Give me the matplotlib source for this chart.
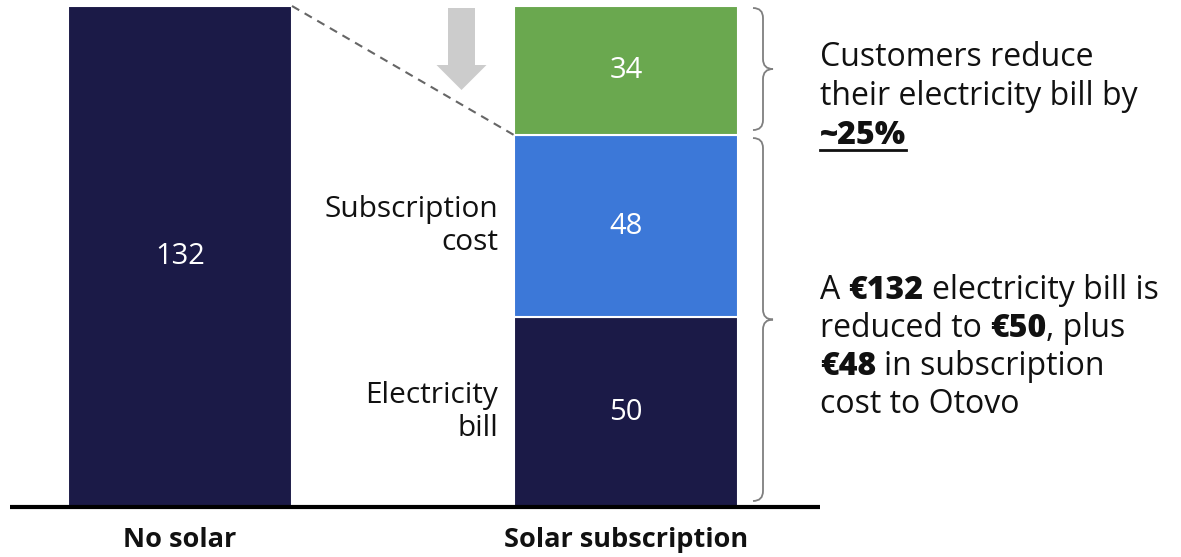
import matplotlib
matplotlib.use("Agg")
import matplotlib.pyplot as plt
from matplotlib.path import Path
from matplotlib.patches import PathPatch, FancyArrow
import numpy as np

plt.rcParams['font.family'] = ['Open Sans', 'DejaVu Sans']

# ---- data ----
categories = ["No solar", "Solar subscription"]
no_solar_total = 132
segment_names = ["Electricity bill", "Subscription cost", "Savings"]
segment_values = [50, 48, 34]
segment_labels = ["Electricity\nbill", "Subscription\ncost", None]

NAVY = "#1b1a47"
BLUE = "#3c78d8"
GREEN = "#6aa84f"
segment_colors = [NAVY, BLUE, GREEN]

W, H = 1181, 557
fig = plt.figure(figsize=(W / 100, H / 100), dpi=100)

# main axes covering the whole figure
ax = fig.add_axes([0, 0, 1, 1])
px_per_unit = 446.0
c0 = 180.0
ax.set_xlim(-c0 / px_per_unit, (W - c0) / px_per_unit)
k = (507 - 6) / 132.0
ax.set_ylim(-(H - 507) / k, 132 + 6 / k)
ax.axis("off")

bw = 224 / px_per_unit
x = np.arange(len(categories))

ax.bar(x[0], no_solar_total, width=bw, color=NAVY, edgecolor="white", linewidth=1.5)
ax.text(x[0], no_solar_total / 2, str(no_solar_total), color="white", ha="center",
        va="center", fontsize=21)

bottom = 0
for v, c, lab in zip(segment_values, segment_colors, segment_labels):
    ax.bar(x[1], v, width=bw, bottom=bottom, color=c, edgecolor="white", linewidth=1.5)
    ax.text(x[1], bottom + v / 2, str(v), color="white", ha="center", va="center",
            fontsize=21)
    if lab:
        ax.text(x[1] - bw / 2 - 16 / px_per_unit, bottom + v / 2, lab, ha="right",
                va="center", fontsize=21.5, color="#111111", linespacing=1.2)
    bottom += v

# category labels
for xi, cat in zip(x, categories):
    ax.text(xi, -33 / k, cat, ha="center", va="center", fontsize=19.5,
            fontweight="bold", color="#111111")

# baseline
ax.plot([(10 - c0) / px_per_unit, (820 - c0) / px_per_unit], [0, 0], color="black",
        lw=3, solid_capstyle="butt", zorder=5)

# dashed connector
ax.plot([x[0] + bw / 2, x[1] - bw / 2], [no_solar_total, segment_values[0] + segment_values[1]],
        color="#666666", lw=1.5, ls=(0, (4, 3)))

# overlay axes in pixel coordinates
ov = fig.add_axes([0, 0, 1, 1])
ov.set_xlim(0, W)
ov.set_ylim(H, 0)
ov.axis("off")
ov.patch.set_alpha(0)

def ypix(v):
    return H - ax.transData.transform((0, v))[1]

# grey arrow
ov.add_patch(FancyArrow(461.5, 8, 0, 82, width=27, head_width=50, head_length=25,
                        length_includes_head=True, color="#cccccc", lw=0))

def brace(x0, y0, y1, depth=20):
    ym = (y0 + y1) / 2
    xs = x0 + depth / 2
    r = 10
    verts = [(x0, y0), (xs, y0), (xs, y0 + r),
             (xs, ym - r), (xs, ym), (x0 + depth, ym),
             (xs, ym), (xs, ym + r),
             (xs, y1 - r), (xs, y1), (x0, y1)]
    codes = [Path.MOVETO, Path.CURVE3, Path.CURVE3,
             Path.LINETO, Path.CURVE3, Path.CURVE3,
             Path.CURVE3, Path.CURVE3,
             Path.LINETO, Path.CURVE3, Path.CURVE3]
    ov.add_patch(PathPatch(Path(verts, codes), fill=False, edgecolor="#7f7f7f", lw=1.3))

top_total = sum(segment_values)
split = segment_values[0] + segment_values[1]
brace(753, ypix(top_total) + 2, ypix(split) - 5)
brace(753, ypix(split) + 3, ypix(0) - 6)

FS = 23

# rich text helper
def rich_line(x0, y0, pieces, size=FS):
    prev = None
    arts = []
    for txt, bold in pieces:
        w = "heavy" if bold else "normal"
        if prev is None:
            t = ov.text(x0, y0, txt, fontsize=size, fontweight=w, ha="left",
                        va="baseline", color="#111111")
        else:
            t = ov.annotate(txt, xy=(1, 0), xycoords=prev, xytext=(6, 0),
                            textcoords="offset points", fontsize=size, fontweight=w,
                            ha="left", va="bottom", color="#111111")
        arts.append(t)
        prev = t
    return arts

rich_line(820, 66, [("Customers reduce", False)])
rich_line(820, 105, [("their electricity bill by", False)])
pct = rich_line(820, 144, [("~25%", True)])[0]

rich_line(820, 299, [("A", False), ("€132", True), ("electricity bill is", False)])
l2 = rich_line(820, 337, [("reduced to", False), ("€50", True)])
ov.annotate(", plus", xy=(1, 0), xycoords=l2[-1], xytext=(0, 0),
            textcoords="offset points", fontsize=FS, ha="left", va="bottom",
            color="#111111")
rich_line(820, 375, [("€48", True), ("in subscription", False)])
rich_line(820, 413, [("cost to Otovo", False)])

# underline ~25%
fig.canvas.draw()
bb = pct.get_window_extent()
inv = ov.transData.inverted()
(xa, _), (xb, _) = inv.transform([(bb.x0, bb.y0), (bb.x1, bb.y0)])
ov.plot([xa, xb], [150, 150], color="#111111", lw=2)

fig.savefig("out.png", dpi=100)
